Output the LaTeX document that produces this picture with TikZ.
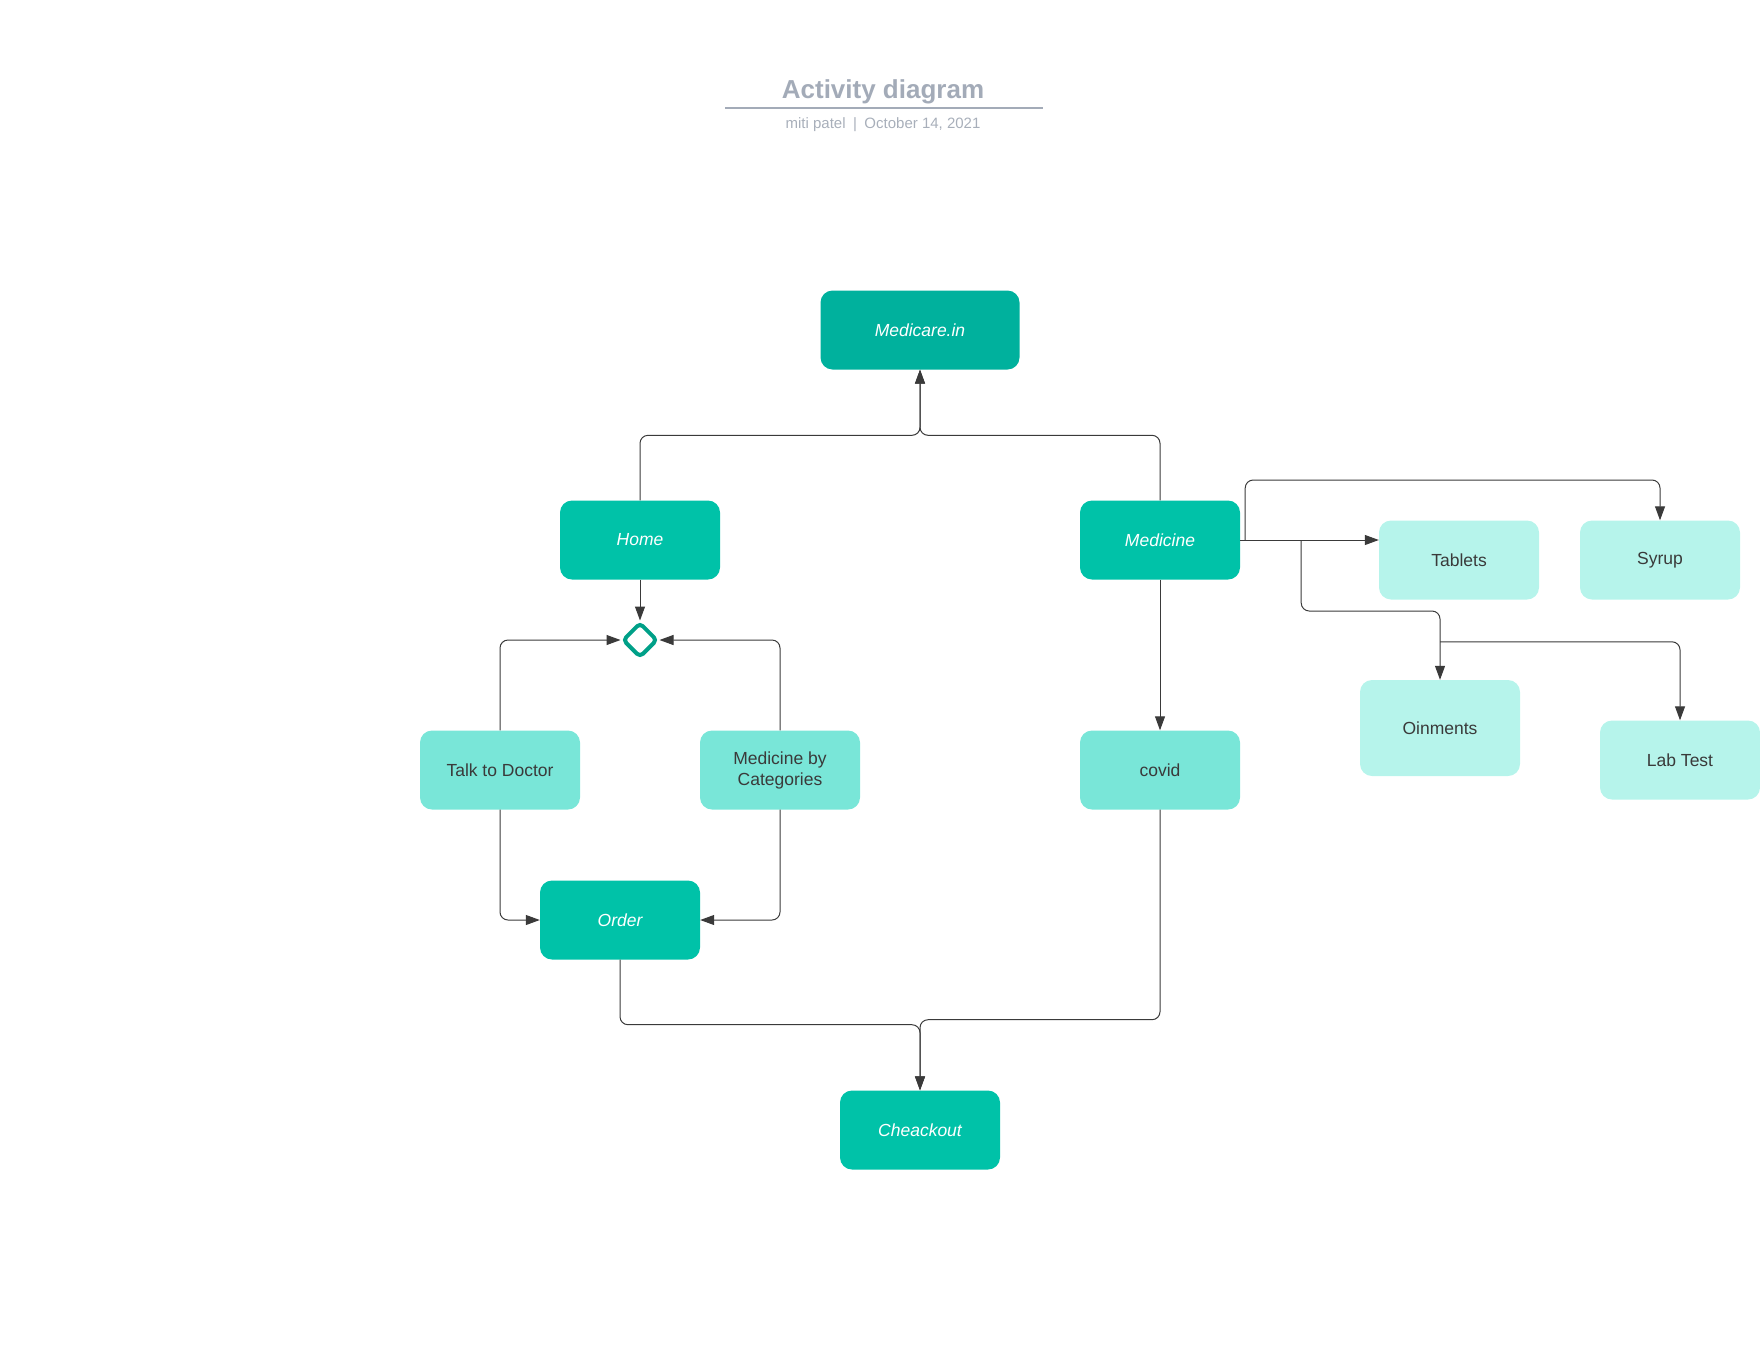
\documentclass[tikz,border=0pt]{standalone}
\usepackage{fontspec}
\setmainfont{Liberation Sans}
\usetikzlibrary{positioning,arrows.meta,shapes.geometric}
\definecolor{tealdark}{HTML}{00B19D}
\definecolor{tealmain}{HTML}{00C2A8}
\definecolor{tealmid}{HTML}{79E6D8}
\definecolor{teallight}{HTML}{B6F4EB}
\definecolor{tealline}{HTML}{00A088}
\definecolor{titlegray}{HTML}{A3ABB8}
\definecolor{subgray}{HTML}{A8AFBA}
\definecolor{linegray}{HTML}{3A3A3A}

\begin{document}
\begin{tikzpicture}[x=1pt, y=-1pt, node distance=230pt,
  box/.style = {rectangle, rounded corners=12pt, minimum width=160pt, minimum height=79pt, align=center, inner sep=0pt, font=\fontsize{17.5}{21}\selectfont},
  main/.style = {box, fill=tealmain, text=white, font=\fontsize{17.5}{21}\selectfont\itshape},
  sub/.style = {box, fill=tealmid, text=linegray},
  leaf/.style = {box, fill=teallight, text=linegray},
  flow/.style = {linegray, line width=1pt, rounded corners=8pt, -{Triangle[length=14pt,width=10pt]}}]
		\useasboundingbox (0,0) rectangle (1760,1360);

		% title
		\node[text=titlegray, font=\fontsize{26}{30}\selectfont\bfseries] (title) at (883,92) {Activity diagram};
		\node[text=subgray, font=\fontsize{15}{18}\selectfont] (author) at (883,125) {miti patel\enspace|\enspace October 14, 2021};
		\draw[titlegray, line width=1.5pt] (725,108) -- (1043,108);

		\node[main, fill=tealdark, minimum width=199pt] (medicare) at (920,330) {Medicare.in};
		\node[main] (home) at (640,540) {Home};
		\node[main] (medicine) at (1160,540) {Medicine};
		\node[diamond, draw=tealline, line width=4pt, rounded corners=4pt, minimum size=35pt, inner sep=0pt] (dec) [below of=home, node distance=100pt] {};
		\node[sub] (talk) at (500,770) {Talk to Doctor};
		\node[sub] (cat) at (780,770) {Medicine by\\Categories};
		\node[main] (order) at (620,920) {Order};
		\node[sub] (covid) [below of=medicine] {covid};
		\node[main] (checkout) at (920,1130) {Cheackout};
		\node[leaf] (tablets) at (1459,560) {Tablets};
		\node[leaf] (syrup) [right of=tablets, node distance=201pt] {Syrup};
		\node[leaf, minimum height=96pt] (oinments) at (1440,728) {Oinments};
		\node[leaf] (labtest) at (1680,760) {Lab Test};
		\path (oinments.north) ++(0,-38) coordinate (split);

		\draw[flow] (home.north) -- ++(0,-65) -| (medicare.south);
		\draw[flow] (medicine.north) -- ++(0,-65) -| (medicare.south);
		\draw[flow] (home) -- (dec);
		\draw[flow] (talk.north) |- (dec.west);
		\draw[flow] (cat.north) |- (dec.east);
		\draw[flow] (talk.south) |- (order.west);
		\draw[flow] (cat.south) |- (order.east);
		\draw[flow] (order.south) -- ++(0,65) -| (checkout.north);
		\draw[flow] (covid.south) -- ++(0,210) -| (checkout.north);
		\draw[flow] (medicine) -- (covid);
		\draw[flow] (medicine.east) -- (medicine.east -| tablets.west);
		\draw[flow] ([xshift=5pt]medicine.east) -- ++(0,-60) -| (syrup.north);
		\draw[flow] ([xshift=61pt]medicine.east) -- ++(0,71) -| (oinments.north);
		\draw[flow] (split) -| (labtest.north);
	\end{tikzpicture}
\end{document}
